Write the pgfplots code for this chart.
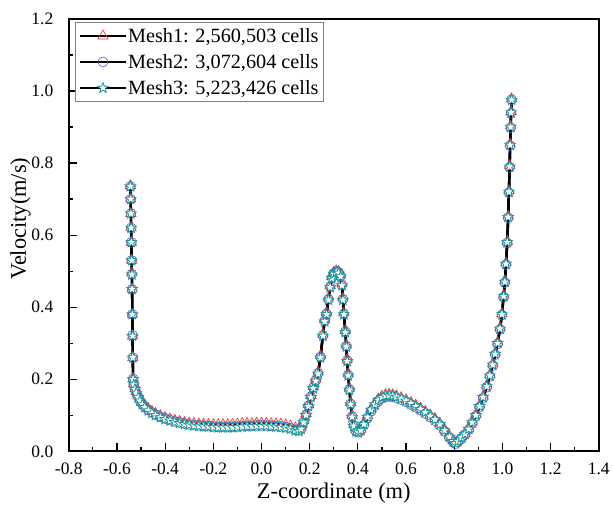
\documentclass[border=0pt]{standalone}
\usepackage{pgfplots}
\usepackage{pgfplotstable}
\pgfplotsset{compat=1.18}
\usepackage{fontspec}
\setmainfont{Liberation Serif}
\definecolor{mOne}{RGB}{235,45,45}
\definecolor{mTwo}{RGB}{80,95,200}
\definecolor{mThree}{RGB}{25,150,150}
\pgfdeclareplotmark{fivestar}{%
  \pgfpathmoveto{\pgfpointpolar{90}{\pgfplotmarksize}}%
  \pgfpathlineto{\pgfpointpolar{126}{0.42\pgfplotmarksize}}%
  \pgfpathlineto{\pgfpointpolar{162}{\pgfplotmarksize}}%
  \pgfpathlineto{\pgfpointpolar{198}{0.42\pgfplotmarksize}}%
  \pgfpathlineto{\pgfpointpolar{234}{\pgfplotmarksize}}%
  \pgfpathlineto{\pgfpointpolar{270}{0.42\pgfplotmarksize}}%
  \pgfpathlineto{\pgfpointpolar{306}{\pgfplotmarksize}}%
  \pgfpathlineto{\pgfpointpolar{342}{0.42\pgfplotmarksize}}%
  \pgfpathlineto{\pgfpointpolar{18}{\pgfplotmarksize}}%
  \pgfpathlineto{\pgfpointpolar{54}{0.42\pgfplotmarksize}}%
  \pgfpathclose
  \pgfusepathqfillstroke
}
\pgfplotstableread{
x m1 m2 m3
-0.544 0.737 0.735 0.735
-0.543 0.700 0.700 0.700
-0.542 0.660 0.660 0.660
-0.541 0.620 0.620 0.620
-0.540 0.580 0.580 0.580
-0.539 0.530 0.530 0.530
-0.538 0.495 0.492 0.490
-0.537 0.450 0.450 0.450
-0.536 0.380 0.380 0.380
-0.535 0.320 0.322 0.320
-0.534 0.260 0.260 0.260
-0.533 0.202 0.201 0.200
-0.530 0.188 0.186 0.185
-0.525 0.175 0.173 0.172
-0.520 0.166 0.163 0.162
-0.512 0.154 0.152 0.150
-0.505 0.145 0.142 0.140
-0.495 0.135 0.132 0.130
-0.485 0.127 0.124 0.122
-0.470 0.118 0.115 0.113
-0.455 0.111 0.108 0.106
-0.440 0.105 0.102 0.100
-0.420 0.099 0.096 0.094
-0.400 0.094 0.091 0.089
-0.380 0.090 0.087 0.085
-0.360 0.086 0.083 0.081
-0.340 0.083 0.080 0.078
-0.320 0.080 0.077 0.075
-0.300 0.078 0.075 0.073
-0.280 0.077 0.073 0.071
-0.260 0.076 0.072 0.070
-0.240 0.075 0.071 0.069
-0.220 0.075 0.070 0.068
-0.200 0.074 0.069 0.067
-0.180 0.074 0.068 0.066
-0.160 0.074 0.068 0.066
-0.140 0.074 0.068 0.066
-0.120 0.075 0.068 0.066
-0.100 0.076 0.069 0.067
-0.080 0.077 0.070 0.068
-0.060 0.077 0.071 0.069
-0.040 0.077 0.071 0.069
-0.020 0.078 0.072 0.070
0.000 0.078 0.072 0.070
0.020 0.078 0.072 0.070
0.040 0.077 0.071 0.069
0.060 0.076 0.070 0.068
0.080 0.075 0.069 0.067
0.100 0.073 0.067 0.065
0.120 0.070 0.064 0.062
0.140 0.065 0.060 0.058
0.155 0.062 0.058 0.056
0.165 0.067 0.064 0.062
0.175 0.085 0.082 0.080
0.185 0.105 0.102 0.100
0.195 0.130 0.127 0.125
0.205 0.155 0.152 0.150
0.215 0.180 0.177 0.175
0.225 0.200 0.197 0.195
0.235 0.220 0.217 0.215
0.245 0.265 0.262 0.260
0.255 0.325 0.322 0.320
0.262 0.365 0.362 0.360
0.270 0.385 0.382 0.380
0.278 0.425 0.422 0.420
0.285 0.460 0.457 0.455
0.292 0.485 0.482 0.480
0.300 0.497 0.494 0.492
0.310 0.501 0.499 0.497
0.320 0.500 0.497 0.495
0.328 0.490 0.487 0.485
0.334 0.465 0.462 0.460
0.338 0.425 0.422 0.420
0.342 0.385 0.382 0.380
0.348 0.335 0.332 0.330
0.352 0.295 0.292 0.290
0.356 0.255 0.252 0.250
0.360 0.215 0.212 0.210
0.365 0.175 0.172 0.170
0.370 0.135 0.132 0.130
0.376 0.099 0.097 0.095
0.383 0.074 0.072 0.070
0.392 0.059 0.057 0.055
0.402 0.055 0.053 0.052
0.412 0.061 0.057 0.058
0.425 0.079 0.073 0.075
0.440 0.099 0.092 0.095
0.455 0.118 0.111 0.115
0.470 0.133 0.126 0.130
0.485 0.145 0.139 0.142
0.500 0.153 0.147 0.150
0.515 0.157 0.151 0.154
0.530 0.158 0.152 0.155
0.545 0.157 0.151 0.154
0.560 0.154 0.148 0.151
0.580 0.149 0.143 0.146
0.600 0.143 0.137 0.140
0.620 0.136 0.130 0.133
0.640 0.128 0.122 0.125
0.660 0.120 0.114 0.117
0.680 0.111 0.105 0.108
0.700 0.101 0.095 0.098
0.720 0.091 0.085 0.088
0.740 0.078 0.072 0.075
0.760 0.061 0.055 0.058
0.780 0.043 0.038 0.040
0.795 0.030 0.026 0.028
0.805 0.023 0.021 0.022
0.815 0.029 0.027 0.028
0.830 0.040 0.036 0.038
0.845 0.050 0.046 0.048
0.860 0.064 0.060 0.062
0.875 0.083 0.078 0.080
0.890 0.103 0.098 0.100
0.905 0.128 0.123 0.125
0.920 0.153 0.148 0.150
0.935 0.183 0.178 0.180
0.948 0.213 0.208 0.210
0.960 0.243 0.238 0.240
0.970 0.273 0.268 0.270
0.980 0.303 0.298 0.300
0.990 0.343 0.338 0.340
0.998 0.383 0.378 0.380
1.005 0.433 0.428 0.430
1.010 0.473 0.468 0.470
1.015 0.523 0.518 0.520
1.020 0.583 0.578 0.580
1.024 0.653 0.648 0.650
1.027 0.723 0.718 0.720
1.030 0.793 0.788 0.790
1.032 0.853 0.848 0.850
1.034 0.903 0.898 0.900
1.036 0.943 0.938 0.940
1.038 0.978 0.976 0.975
}\meshdata
\begin{document}
\begin{tikzpicture}
\begin{axis}[
  name=ax,
  scale only axis,
  width=532pt, height=434pt,
  xmin=-0.8, xmax=1.4, ymin=0, ymax=1.2,
  xtick={-0.8,-0.6,...,1.41},
  ytick={0,0.2,...,1.21},
  minor x tick num=1, minor y tick num=1,
  tick align=inside,
  xtick pos=bottom, ytick pos=left,
  major tick length=8pt, minor tick length=4.5pt,
  every tick/.style={black, line width=1.2pt},
  axis line style={black, line width=1.8pt},
  /pgf/number format/assume math mode=true,
  /pgf/number format/.cd, fixed, fixed zerofill, precision=1, /pgfplots/.cd,
  tick label style={font=\fontsize{17.5}{19}\selectfont},
  yticklabel style={xshift=-12pt},
  xticklabel style={yshift=-8pt},
  xlabel={Z-coordinate (m)},
  ylabel={Velocity(m/s)},
  label style={font=\fontsize{22.5}{25}\selectfont},
  xlabel style={at={(axis description cs:0.5,-0.097)}, anchor=center},
  ylabel style={at={(axis description cs:-0.091,0.538)}, anchor=center, rotate=0},
  legend style={at={(0.011,0.993)}, anchor=north west, draw=gray, line width=0.6pt,
    font=\fontsize{20.3}{22}\selectfont, row sep=8.5pt, inner xsep=4pt, inner ysep=5pt,
    nodes={inner sep=1pt}},
  legend cell align=left,
  legend image code/.code={%
    \draw[#1, mark repeat=2, mark phase=2] plot coordinates {(0pt,0pt) (23pt,0pt) (46pt,0pt)};},
]
\addplot[black, line width=2.4pt, mark=triangle, mark size=6pt,
  mark options={draw=mOne, fill=white, line width=0.6pt}] table[x=x, y=m1] {\meshdata};
\addlegendentry{Mesh1: 2,560,503 cells}
\addplot[black, line width=2.4pt, mark=o, mark size=5pt,
  mark options={draw=mTwo, fill=white, line width=0.6pt}] table[x=x, y=m2] {\meshdata};
\addlegendentry{Mesh2: 3,072,604 cells}
\addplot[black, line width=2.4pt, mark=fivestar, mark size=5.5pt,
  mark options={draw=mThree, fill=white, line width=0.8pt}] table[x=x, y=m3] {\meshdata};
\addlegendentry{Mesh3: 5,223,426 cells}
\end{axis}
\path ([xshift=-69pt,yshift=19pt]ax.north west) ([xshift=12pt,yshift=-63pt]ax.south east);
\end{tikzpicture}
\end{document}
